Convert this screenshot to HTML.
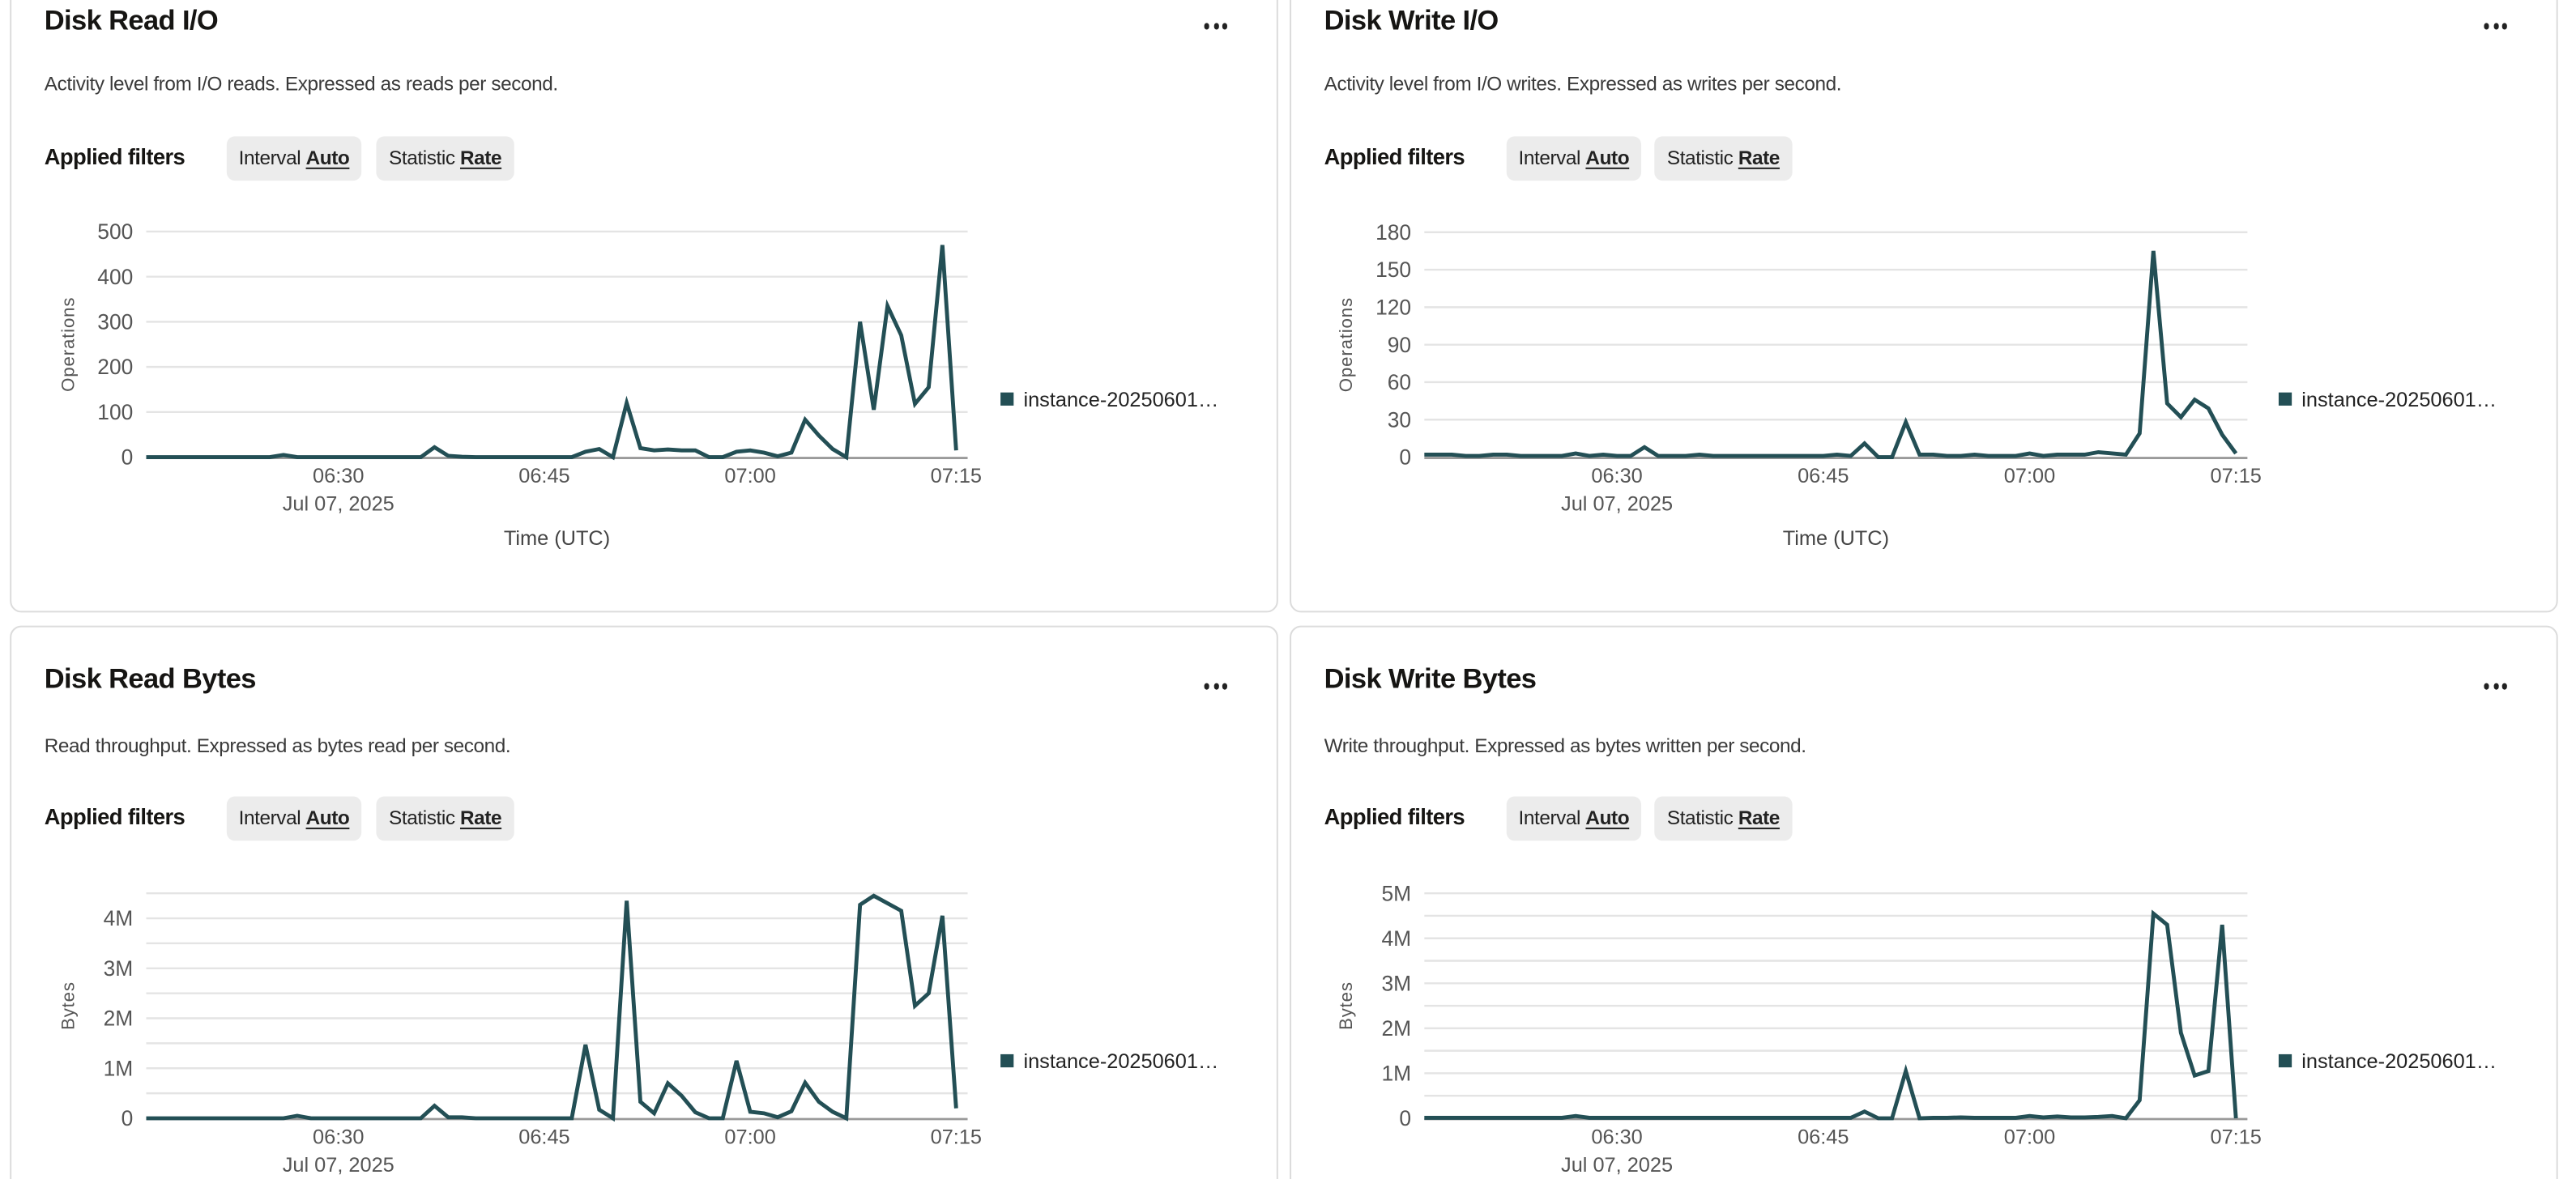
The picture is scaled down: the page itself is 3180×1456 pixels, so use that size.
<!DOCTYPE html>
<html><head><meta charset="utf-8"><style>
html,body{margin:0;padding:0;background:#fff;overflow:hidden}
body{width:3180px;height:1456px;position:relative;font-family:"Liberation Sans",sans-serif}
#wrap{position:absolute;left:0;top:0;width:1568px;height:718px;transform:scale(2.02806,2.0279);transform-origin:0 0}
.card{position:absolute;border:1px solid #dcdcdc;border-radius:7px;background:#fff;box-sizing:border-box}
.t{position:absolute;white-space:nowrap}
.title{font-size:17px;font-weight:bold;color:#161513;letter-spacing:-0.3px}
.desc{font-size:12px;color:#3a3a3a;letter-spacing:-0.2px}
.af{font-size:13.5px;font-weight:bold;color:#161513;letter-spacing:-0.3px}
.chip{position:absolute;height:27px;background:#ececec;border-radius:5px;font-size:12px;color:#222;line-height:27px;text-align:center;letter-spacing:-0.2px}
.chip b{text-decoration:underline;text-underline-offset:2px}
.dots{position:absolute;width:15px;height:4px}
.dots i{position:absolute;top:0;width:3px;height:3.5px;border-radius:50%;background:#222}
svg text{font-family:"Liberation Sans",sans-serif}
</style></head><body>
<div id="wrap">
  <div class="card" style="left:6px;top:-10px;width:772px;height:383px"></div>
  <div class="card" style="left:785px;top:-10px;width:772px;height:383px"></div>
  <div class="card" style="left:6px;top:381px;width:772px;height:360px"></div>
  <div class="card" style="left:785px;top:381px;width:772px;height:360px"></div>

  <div class="t title" style="left:27px;top:3px">Disk Read I/O</div>
  <div class="dots" style="left:733px;top:14px"><i style="left:0"></i><i style="left:5.5px"></i><i style="left:11px"></i></div>
  <div class="t desc" style="left:27px;top:44px">Activity level from I/O reads. Expressed as reads per second.</div>
  <div class="t af" style="left:27px;top:88px">Applied filters</div>
  <div class="chip" style="left:138px;top:83px;width:82px">Interval <b>Auto</b></div>
  <div class="chip" style="left:229px;top:83px;width:84px">Statistic <b>Rate</b></div>

  <div class="t title" style="left:806px;top:3px">Disk Write I/O</div>
  <div class="dots" style="left:1512px;top:14px"><i style="left:0"></i><i style="left:5.5px"></i><i style="left:11px"></i></div>
  <div class="t desc" style="left:806px;top:44px">Activity level from I/O writes. Expressed as writes per second.</div>
  <div class="t af" style="left:806px;top:88px">Applied filters</div>
  <div class="chip" style="left:917px;top:83px;width:82px">Interval <b>Auto</b></div>
  <div class="chip" style="left:1007px;top:83px;width:84px">Statistic <b>Rate</b></div>

  <div class="t title" style="left:27px;top:404px">Disk Read Bytes</div>
  <div class="dots" style="left:733px;top:416px"><i style="left:0"></i><i style="left:5.5px"></i><i style="left:11px"></i></div>
  <div class="t desc" style="left:27px;top:447px">Read throughput. Expressed as bytes read per second.</div>
  <div class="t af" style="left:27px;top:490px">Applied filters</div>
  <div class="chip" style="left:138px;top:485px;width:82px">Interval <b>Auto</b></div>
  <div class="chip" style="left:229px;top:485px;width:84px">Statistic <b>Rate</b></div>

  <div class="t title" style="left:806px;top:404px">Disk Write Bytes</div>
  <div class="dots" style="left:1512px;top:416px"><i style="left:0"></i><i style="left:5.5px"></i><i style="left:11px"></i></div>
  <div class="t desc" style="left:806px;top:447px">Write throughput. Expressed as bytes written per second.</div>
  <div class="t af" style="left:806px;top:490px">Applied filters</div>
  <div class="chip" style="left:917px;top:485px;width:82px">Interval <b>Auto</b></div>
  <div class="chip" style="left:1007px;top:485px;width:84px">Statistic <b>Rate</b></div>

  <svg id="charts" width="1568" height="718" style="position:absolute;left:0;top:0"></svg>
</div>
<script>
// minutes after 06:00 for each sample (06:16 .. 07:15)
const minutes = [];
for (let m = 16; m <= 75; m++) minutes.push(m);
const xTickMinutes = [30, 45, 60, 75];
const xTickLabels = ["06:30", "06:45", "07:00", "07:15"];
const dateLabel = "Jul 07, 2025";
const legendLabel = "instance-20250601…";

const readIO = [0,0,0,0,0,0,0,0,0,0, 5, 0,0,0,0,0,0,0,0,0,0, 22,3,1, 0,0,0,0,0,0,0,0,
  12,18,0,120,20,15,17,15,15,0,0,12,15,10,2,10,83,48,18,0,300,105,335,270,118,155,470,15];
const readIOTicks = [0,100,200,300,400,500];

const writeIO = [2,2,2,1,1,2,2,1,1,1,1,3,1,2,1,1,8,1,1,1,2,1,1,1,1,1,1,1,1,1,2,1,
  11,0,0,28,2,2,1,1,2,1,1,1,3,1,2,2,2,4,3,2,19,165,43,32,46,39,18,3];
const writeIOTicks = [0,30,60,90,120,150,180];

const readBytesM = [0,0,0,0,0,0,0,0,0,0,0, 0.05, 0,0,0,0,0,0,0,0,0, 0.25,0.02,0.02, 0,0,0,0,0,0,0,0,
  1.47,0.17,0,4.35,0.33,0.1,0.7,0.45,0.12,0,0,1.15,0.13,0.1,0.02,0.14,0.71,0.33,0.13,0,4.27,4.45,4.3,4.15,2.25,2.5,4.05,0.2];
const readBytesTicks = [0,1,2,3,4];
const readBytesGrid = [0,0.5,1,1.5,2,2.5,3,3.5,4,4.5];

const writeBytesM = [0.01,0.01,0.01,0.01,0.01,0.01,0.01,0.01,0.01,0.01,0.01, 0.05,
  0.01,0.01,0.01,0.01,0.01,0.01,0.01,0.01,0.01,0.01,0.01,0.01,0.01,0.01,0.01,0.01,0.01,0.01,0.01,0.01,
  0.15,0,0,1.05,0,0.01,0.01,0.02,0.01,0.01,0.01,0.01,0.05,0.02,0.04,0.02,0.02,0.03,0.05,0,0.4,4.55,4.3,1.9,0.95,1.05,4.3,0];
const writeBytesTicks = [0,1,2,3,4,5];
const writeBytesGrid = [0,0.5,1,1.5,2,2.5,3,3.5,4,4.5,5];

const NS = "http://www.w3.org/2000/svg";
const svg = document.getElementById("charts");
function mk(tag, attrs, parent) {
  const e = document.createElementNS(NS, tag);
  for (const k in attrs) e.setAttribute(k, attrs[k]);
  (parent || svg).appendChild(e);
  return e;
}
function drawChart(cfg, values, ticks, grid, fmt) {
  const g = mk("g", {});
  
  
  const xS = m => cfg.x0 + (m - 16) * (cfg.x1 - cfg.x0) / 59;
  const yS = v => cfg.y0 - v * (cfg.y0 - cfg.yTop) / cfg.max;
  grid.forEach(v => {
    if (v === 0) return;
    const l = mk("line", {x1: cfg.x0, x2: cfg.x1 + 7, y1: yS(v), y2: yS(v), stroke: "#e4e4e4", "stroke-width": 1.2}, g);
    
    
  });
  ticks.forEach(v => {
    const t = mk("text", {x: cfg.x0 - 8, y: yS(v) + 4.5, "text-anchor": "end", "font-size": 13, fill: "#555"}, g);
    t.textContent = fmt(v);
    
    
  });
  const base = mk("line", {x1: cfg.x0, x2: cfg.x1 + 7, y1: cfg.y0 + 0.5, y2: cfg.y0 + 0.5, stroke: "#9a9a9a", "stroke-width": 1.4}, g);
  
  
  xTickMinutes.forEach((m, i) => {
    const t = mk("text", {x: xS(m), y: cfg.y0 + 15.5, "text-anchor": "middle", "font-size": 12.5, fill: "#555"}, g);
    t.textContent = xTickLabels[i];
    
    
  });
  const d = mk("text", {x: xS(30), y: cfg.y0 + 32.5, "text-anchor": "middle", "font-size": 12.5, fill: "#555"}, g);
  d.textContent = dateLabel;
  
  
  if (cfg.xTitle) {
    const xt = mk("text", {x: (cfg.x0 + cfg.x1 + 7) / 2, y: cfg.y0 + 53.5, "text-anchor": "middle", "font-size": 12.5, fill: "#444"}, g);
    xt.textContent = cfg.xTitle;
    
    
  }
  const cy = (cfg.y0 + cfg.yTop) / 2;
  const yt = mk("text", {x: 0, y: 0, transform: `translate(${cfg.x0 - 44},${cy}) rotate(-90)`, "text-anchor": "middle", "font-size": 11, fill: "#555", "letter-spacing": "0.4"}, g);
  yt.textContent = cfg.yTitle;
  
  
  const pts = values.map((v, i) => xS(minutes[i]).toFixed(2) + "," + yS(v).toFixed(2)).join(" ");
  const pl = mk("polyline", {points: pts, fill: "none", stroke: "#234f55", "stroke-width": 2.4, "stroke-linejoin": "miter"}, g);
  
  
  const sq = mk("rect", {x: cfg.x0 + 520, y: cfg.legY - 4, width: 8, height: 8, fill: "#234f55"}, g);
  
  
  const lt = mk("text", {x: cfg.x0 + 534, y: cfg.legY + 4.5, "font-size": 12.5, fill: "#222"}, g);
  lt.textContent = legendLabel;
  
  
}
drawChart({name: "disk-read-io-chart", x0: 89, x1: 582, y0: 278.4, yTop: 141, max: 500, legY: 243, yTitle: "Operations", xTitle: "Time (UTC)"}, readIO, readIOTicks, readIOTicks, v => String(v));
drawChart({name: "disk-write-io-chart", x0: 867, x1: 1361, y0: 278.4, yTop: 141.4, max: 180, legY: 243, yTitle: "Operations", xTitle: "Time (UTC)"}, writeIO, writeIOTicks, writeIOTicks, v => String(v));
drawChart({name: "disk-read-bytes-chart", x0: 89, x1: 582, y0: 681, yTop: 544, max: 4.5, legY: 646, yTitle: "Bytes"}, readBytesM, readBytesTicks, readBytesGrid, v => v === 0 ? "0" : v + "M");
drawChart({name: "disk-write-bytes-chart", x0: 867, x1: 1361, y0: 681, yTop: 544, max: 5, legY: 646, yTitle: "Bytes"}, writeBytesM, writeBytesTicks, writeBytesGrid, v => v === 0 ? "0" : v + "M");
</script>
</body></html>
